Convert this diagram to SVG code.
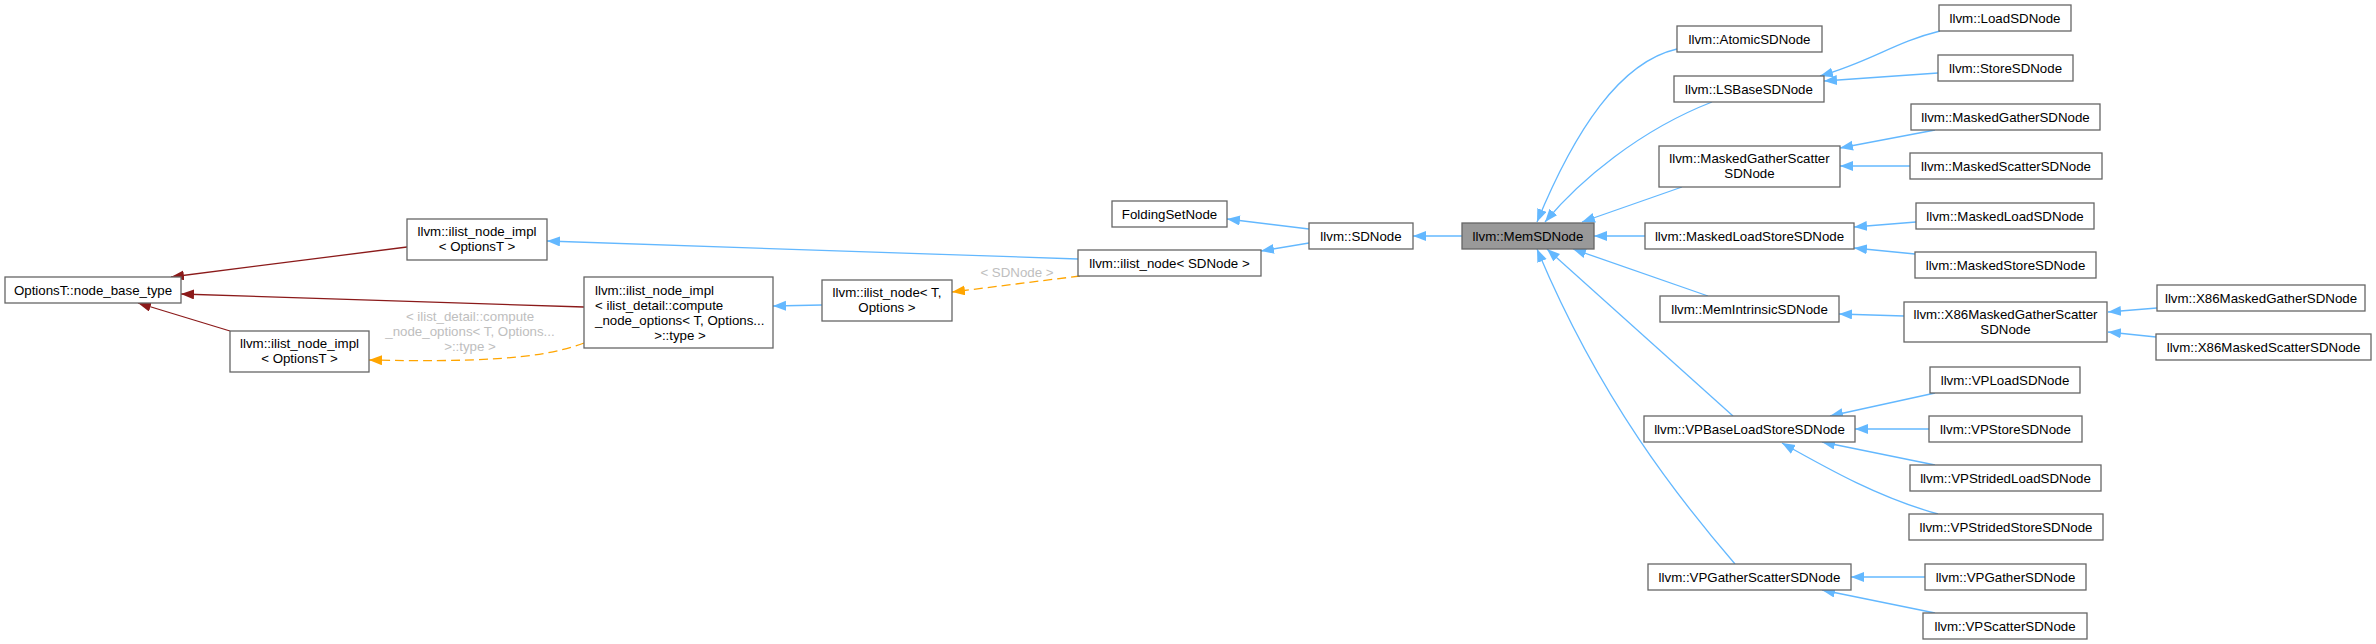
<svg xmlns="http://www.w3.org/2000/svg" width="2376" height="644" viewBox="0 0 2376 644">
<style>
.bx{fill:#ffffff;stroke:#666666;stroke-width:1.3}
.cur{fill:#999999;stroke:#666666;stroke-width:1.3}
text{font-family:"Liberation Sans",Arial,sans-serif;font-size:13.3px;fill:#000000}
.c{text-anchor:middle}
.lbl{fill:#bebebe;text-anchor:middle}
.eb{fill:none;stroke:#63b8ff;stroke-width:1.3;marker-end:url(#ab)}
.er{fill:none;stroke:#8b1a1a;stroke-width:1.3;marker-end:url(#ar)}
.eo{fill:none;stroke:#ffa500;stroke-width:1.3;stroke-dasharray:9,5;marker-end:url(#ao)}
</style>
<defs>
<marker id="ab" markerUnits="userSpaceOnUse" markerWidth="14" markerHeight="11" refX="13" refY="5" orient="auto"><path d="M0,0 L13,5 L0,10 z" fill="#63b8ff"/></marker>
<marker id="ar" markerUnits="userSpaceOnUse" markerWidth="14" markerHeight="11" refX="13" refY="5" orient="auto"><path d="M0,0 L13,5 L0,10 z" fill="#8b1a1a"/></marker>
<marker id="ao" markerUnits="userSpaceOnUse" markerWidth="14" markerHeight="11" refX="13" refY="5" orient="auto"><path d="M0,0 L13,5 L0,10 z" fill="#ffa500"/></marker>
</defs>
<rect width="2376" height="644" fill="#ffffff"/>
<g id="edges">
<path class="er" d="M407,247 L171,277"/>
<path class="er" d="M584,307 L181,294"/>
<path class="er" d="M230,331 L138,303"/>
<path class="eb" d="M1078,259 L547,241"/>
<path class="eb" d="M822,305 L773,306"/>
<path class="eb" d="M1309,229 L1227,219"/>
<path class="eb" d="M1309,243 L1261,251"/>
<path class="eb" d="M1462,236 L1413,236"/>
<path class="eb" d="M1677,49 C1620,62 1575,130 1537,222"/>
<path class="eb" d="M1712,102 C1640,130 1580,180 1545,222"/>
<path class="eb" d="M1682,187 L1582,222"/>
<path class="eb" d="M1645,236 L1594,236"/>
<path class="eb" d="M1708,296 L1573,249"/>
<path class="eb" d="M1733,416 L1547,249"/>
<path class="eb" d="M1735,564 C1680,500 1600,400 1537,249"/>
<path class="eb" d="M1940,31 C1895,42 1870,62 1820,76"/>
<path class="eb" d="M1938,73 L1824,81"/>
<path class="eb" d="M1935,130 L1840,148"/>
<path class="eb" d="M1910,166 L1840,166"/>
<path class="eb" d="M1916,222 L1854,227"/>
<path class="eb" d="M1915,254 L1854,248"/>
<path class="eb" d="M1904,316 L1839,314"/>
<path class="eb" d="M2157,308 L2108,312"/>
<path class="eb" d="M2156,337 L2108,332"/>
<path class="eb" d="M1935,393 L1830,416"/>
<path class="eb" d="M1929,429 L1855,429"/>
<path class="eb" d="M1935,465 L1822,442"/>
<path class="eb" d="M1938,514 C1880,498 1830,470 1782,443"/>
<path class="eb" d="M1925,577 L1851,577"/>
<path class="eb" d="M1935,613 L1822,590"/>
<path class="eo" d="M584,343 C540,360 470,362 369,360"/>
<path class="eo" d="M1080,276 L952,292"/>
<text class="lbl" x="470" y="321">&lt; ilist_detail::compute</text>
<text class="lbl" x="470" y="336">_node_options&lt; T, Options...</text>
<text class="lbl" x="470" y="351">&gt;::type &gt;</text>
<text class="lbl" x="1017" y="277">&lt; SDNode &gt;</text>
</g>
<g id="n_optbase"><rect class="bx" x="5" y="277" width="176" height="26"/><text class="c" x="93" y="294.5">OptionsT::node_base_type</text></g>
<g id="n_impl_top"><rect class="bx" x="407" y="219" width="140" height="41"/><text class="c" x="477" y="236">llvm::ilist_node_impl</text><text class="c" x="477" y="251">&lt; OptionsT &gt;</text></g>
<g id="n_impl_bot"><rect class="bx" x="230" y="331" width="139" height="41"/><text class="c" x="299.5" y="348">llvm::ilist_node_impl</text><text class="c" x="299.5" y="363">&lt; OptionsT &gt;</text></g>
<g id="n_impl_big"><rect class="bx" x="584" y="277" width="189" height="71"/><text x="595" y="295">llvm::ilist_node_impl</text><text x="595" y="310">&lt; ilist_detail::compute</text><text x="595" y="325">_node_options&lt; T, Options...</text><text class="c" x="680" y="340">&gt;::type &gt;</text></g>
<g id="n_ilist_TO"><rect class="bx" x="822" y="280" width="130" height="41"/><text class="c" x="887" y="297">llvm::ilist_node&lt; T,</text><text class="c" x="887" y="312">Options &gt;</text></g>
<g id="n_folding"><rect class="bx" x="1112" y="201" width="115" height="26"/><text class="c" x="1169.5" y="218.5">FoldingSetNode</text></g>
<g id="n_ilist_sd"><rect class="bx" x="1078" y="250" width="183" height="26"/><text class="c" x="1169.5" y="267.5">llvm::ilist_node&lt; SDNode &gt;</text></g>
<g id="n_sdnode"><rect class="bx" x="1309" y="223" width="104" height="26"/><text class="c" x="1361" y="240.5">llvm::SDNode</text></g>
<g id="n_mem"><rect class="cur" x="1462" y="223" width="132" height="26"/><text class="c" x="1528" y="240.5">llvm::MemSDNode</text></g>
<g id="n_atomic"><rect class="bx" x="1677" y="26" width="145" height="26"/><text class="c" x="1749.5" y="43.5">llvm::AtomicSDNode</text></g>
<g id="n_lsbase"><rect class="bx" x="1674" y="76" width="150" height="26"/><text class="c" x="1749" y="93.5">llvm::LSBaseSDNode</text></g>
<g id="n_mgs"><rect class="bx" x="1659" y="146" width="181" height="41"/><text class="c" x="1749.5" y="163">llvm::MaskedGatherScatter</text><text class="c" x="1749.5" y="178">SDNode</text></g>
<g id="n_mls"><rect class="bx" x="1645" y="223" width="209" height="26"/><text class="c" x="1749.5" y="240.5">llvm::MaskedLoadStoreSDNode</text></g>
<g id="n_memintr"><rect class="bx" x="1660" y="296" width="179" height="26"/><text class="c" x="1749.5" y="313.5">llvm::MemIntrinsicSDNode</text></g>
<g id="n_vpbase"><rect class="bx" x="1644" y="416" width="211" height="26"/><text class="c" x="1749.5" y="433.5">llvm::VPBaseLoadStoreSDNode</text></g>
<g id="n_vpgs"><rect class="bx" x="1648" y="564" width="203" height="26"/><text class="c" x="1749.5" y="581.5">llvm::VPGatherScatterSDNode</text></g>
<g id="n_load"><rect class="bx" x="1939" y="5" width="132" height="26"/><text class="c" x="2005" y="22.5">llvm::LoadSDNode</text></g>
<g id="n_store"><rect class="bx" x="1938" y="55" width="135" height="26"/><text class="c" x="2005.5" y="72.5">llvm::StoreSDNode</text></g>
<g id="n_mgather"><rect class="bx" x="1911" y="104" width="189" height="26"/><text class="c" x="2005.5" y="121.5">llvm::MaskedGatherSDNode</text></g>
<g id="n_mscatter"><rect class="bx" x="1910" y="153" width="192" height="26"/><text class="c" x="2006" y="170.5">llvm::MaskedScatterSDNode</text></g>
<g id="n_mload"><rect class="bx" x="1916" y="203" width="178" height="26"/><text class="c" x="2005" y="220.5">llvm::MaskedLoadSDNode</text></g>
<g id="n_mstore"><rect class="bx" x="1915" y="252" width="181" height="26"/><text class="c" x="2005.5" y="269.5">llvm::MaskedStoreSDNode</text></g>
<g id="n_x86mgs"><rect class="bx" x="1904" y="302" width="203" height="40"/><text class="c" x="2005.5" y="318.5">llvm::X86MaskedGatherScatter</text><text class="c" x="2005.5" y="333.5">SDNode</text></g>
<g id="n_x86g"><rect class="bx" x="2157" y="285" width="208" height="26"/><text class="c" x="2261" y="302.5">llvm::X86MaskedGatherSDNode</text></g>
<g id="n_x86s"><rect class="bx" x="2156" y="334" width="215" height="26"/><text class="c" x="2263.5" y="351.5">llvm::X86MaskedScatterSDNode</text></g>
<g id="n_vpload"><rect class="bx" x="1930" y="367" width="150" height="26"/><text class="c" x="2005" y="384.5">llvm::VPLoadSDNode</text></g>
<g id="n_vpstore"><rect class="bx" x="1929" y="416" width="153" height="26"/><text class="c" x="2005.5" y="433.5">llvm::VPStoreSDNode</text></g>
<g id="n_vpsl"><rect class="bx" x="1910" y="465" width="191" height="26"/><text class="c" x="2005.5" y="482.5">llvm::VPStridedLoadSDNode</text></g>
<g id="n_vpss"><rect class="bx" x="1909" y="514" width="194" height="26"/><text class="c" x="2006" y="531.5">llvm::VPStridedStoreSDNode</text></g>
<g id="n_vpgather"><rect class="bx" x="1925" y="564" width="161" height="26"/><text class="c" x="2005.5" y="581.5">llvm::VPGatherSDNode</text></g>
<g id="n_vpscatter"><rect class="bx" x="1923" y="613" width="164" height="26"/><text class="c" x="2005" y="630.5">llvm::VPScatterSDNode</text></g>
</svg>
